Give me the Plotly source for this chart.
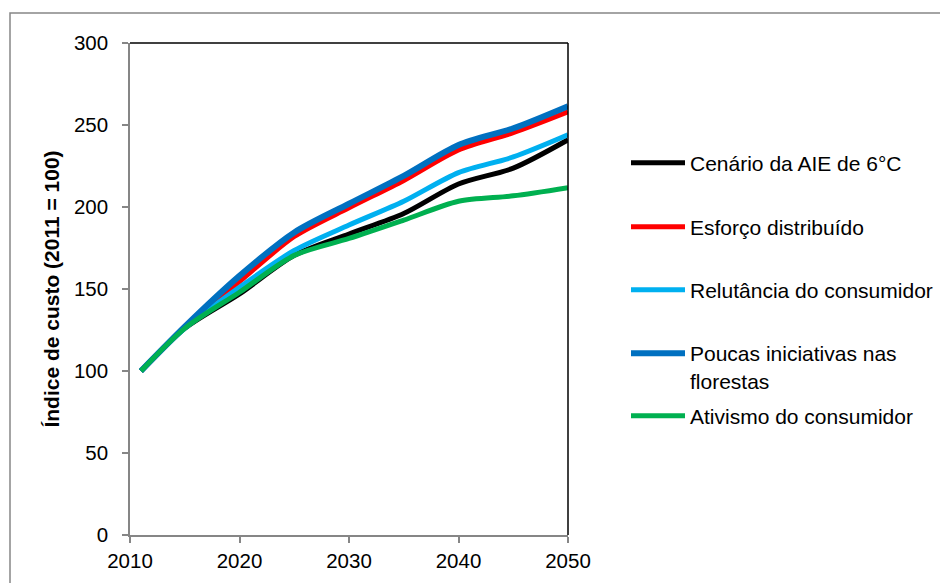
import plotly.graph_objects as go

years = [2011, 2015, 2020, 2025, 2030, 2035, 2040, 2045, 2050]

series_names = [
    "Cenário da AIE de 6°C",
    "Esforço distribuído",
    "Relutância do consumidor",
    "Poucas iniciativas nas<br>florestas",
    "Ativismo do consumidor",
]
cenario_aie = [100, 126, 147, 170.5, 183.5, 196, 214, 223.7, 241]
esforco = [100, 126.5, 154.5, 182, 199.5, 216.2, 234.8, 245.3, 258]
relutancia = [100, 126, 151, 173.5, 189, 203.5, 221, 230.5, 244]
poucas = [100, 127, 158, 184.5, 202, 219, 237.8, 248, 261.5]
ativismo = [100, 126, 148, 170.5, 180.8, 192, 203.5, 206.8, 211.8]

x_ticks = [2010, 2020, 2030, 2040, 2050]
y_ticks = [0, 50, 100, 150, 200, 250, 300]

colors = ["#000000", "#FF0000", "#00B0F0", "#0070C0", "#00B050"]
widths = [5, 5, 5, 6, 5]
values = [cenario_aie, esforco, relutancia, poucas, ativismo]

FONT = "Arial, Liberation Sans, sans-serif"

# page offset (browser body margin)
OFF = 8
W, H = 948, 583
# plot area in screen pixels
SX0, SX1, SY0, SY1 = 130, 568, 43, 535
L = SX0 - OFF
T = SY0 - OFF
R = W - (SX1 - OFF)
B = H - (SY1 - OFF)
PW = SX1 - SX0
PH = SY1 - SY0

def px_to_paper_x(px):
    return (px - SX0) / PW

def px_to_paper_y(py):
    return (SY1 - py) / PH

fig = go.Figure()
legend_ids = ["legend", "legend2", "legend3", "legend4", "legend5"]
legend_y_px = [163, 227, 290, 353, 416]

for i, (name, vals) in enumerate(zip(series_names, values)):
    fig.add_trace(go.Scatter(
        x=years, y=vals, name=name, mode="lines",
        line=dict(color=colors[i], width=widths[i], shape="spline", smoothing=0.8),
        legend=legend_ids[i],
        hoverinfo="skip",
    ))

layout_legends = {}
for i, lid in enumerate(legend_ids):
    two_line = "<br>" in series_names[i]
    layout_legends[lid] = dict(
        x=px_to_paper_x(626),
        y=px_to_paper_y(legend_y_px[i] - (20 if two_line else 0)),
        xanchor="left",
        yanchor="top" if two_line else "middle",
        valign="top",
        font=dict(family=FONT, size=21, color="#000000"),
        bgcolor="rgba(0,0,0,0)",
        borderwidth=0,
        itemwidth=54,
        tracegroupgap=0,
    )

fig.update_layout(
    width=W, height=H,
    margin=dict(l=L, r=R, t=T, b=B, autoexpand=False),
    paper_bgcolor="white",
    plot_bgcolor="white",
    showlegend=True,
    font=dict(family=FONT, size=20, color="#000000"),
    xaxis=dict(
        range=[2010, 2050],
        tickvals=x_ticks,
        ticks="outside", ticklen=6, tickcolor="#868686", tickwidth=1.5,
        showline=True, linecolor="#868686", linewidth=1.5,
        showgrid=False, zeroline=False,
        tickfont=dict(family=FONT, size=20.5, color="#000000"),
        ticklabelstandoff=1,
    ),
    yaxis=dict(
        range=[0, 300],
        tickvals=y_ticks,
        ticks="outside", ticklen=6, tickcolor="#868686", tickwidth=1.5,
        showline=True, linecolor="#868686", linewidth=1.5,
        showgrid=False, zeroline=False,
        tickfont=dict(family=FONT, size=20.5, color="#000000"),
        ticklabelstandoff=10,
        title=dict(text="<b>Índice de custo (2011 = 100)</b>",
                   font=dict(family=FONT, size=21, color="#000000"),
                   standoff=9),
    ),
    shapes=[
        # top and right border of plot area
        dict(type="line", xref="paper", yref="paper", x0=0, x1=1, y0=1, y1=1,
             line=dict(color="#000000", width=1.5)),
        dict(type="line", xref="paper", yref="paper", x0=1, x1=1, y0=0, y1=1,
             line=dict(color="#000000", width=1.5)),
        # outer chart border
        dict(type="rect", xref="paper", yref="paper",
             x0=px_to_paper_x(10), x1=px_to_paper_x(1000),
             y0=px_to_paper_y(700), y1=px_to_paper_y(13),
             line=dict(color="#868686", width=1.5), layer="below"),
    ],
    **layout_legends,
)

fig.write_html("out.html")
